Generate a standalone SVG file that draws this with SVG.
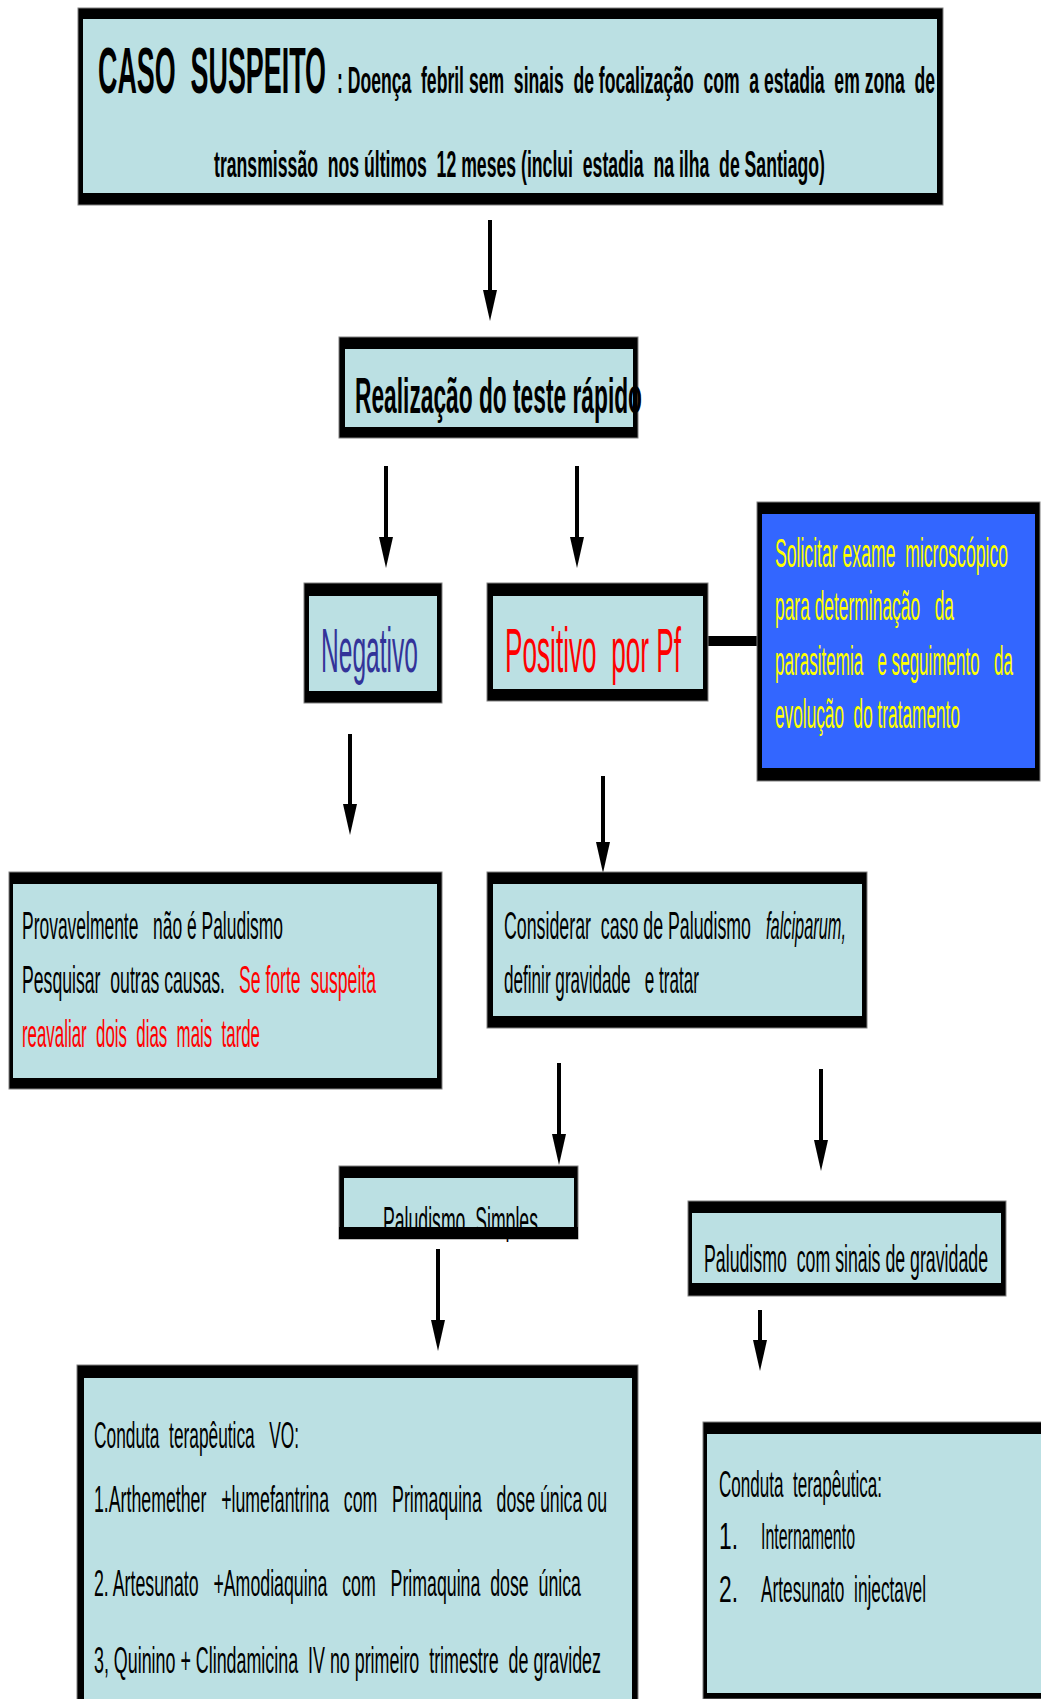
<svg xmlns="http://www.w3.org/2000/svg" width="1041" height="1699" viewBox="0 0 1041 1699">
<defs>
<style>
.ob{fill:#000;stroke:#808080;stroke-width:1}
.in{fill:#BBE0E3}
.t{font-family:"Liberation Sans",Arial,sans-serif;fill:#000;white-space:pre}
.b{font-weight:bold}
.red{fill:#FF0000}
.yel{fill:#FFFF00}
.navy{fill:#333399}
.conn line{stroke:#000;stroke-width:4}
</style>
<marker id="ah" markerUnits="userSpaceOnUse" markerWidth="32" markerHeight="14" refX="6" refY="7" orient="auto">
<path d="M0,0 L31,7 L0,14 z" fill="#000"/>
</marker>
</defs>
<rect width="1041" height="1699" fill="#fff"/>

<g id="connectors" class="conn">
<line x1="490" y1="220" x2="490" y2="296" marker-end="url(#ah)"/>
<line x1="386" y1="466" x2="386" y2="543" marker-end="url(#ah)"/>
<line x1="577" y1="466" x2="577" y2="543" marker-end="url(#ah)"/>
<line x1="350" y1="734" x2="350" y2="810" marker-end="url(#ah)"/>
<line x1="603" y1="776" x2="603" y2="848" marker-end="url(#ah)"/>
<line x1="559" y1="1063" x2="559" y2="1140" marker-end="url(#ah)"/>
<line x1="821" y1="1069" x2="821" y2="1146" marker-end="url(#ah)"/>
<line x1="438" y1="1249" x2="438" y2="1326" marker-end="url(#ah)"/>
<line x1="760" y1="1310" x2="760" y2="1346" marker-end="url(#ah)"/>
<rect x="706" y="636" width="53" height="10" fill="#000"/>
</g>

<g id="caso-suspeito">
<rect class="ob" x="78" y="8" width="865" height="197"/>
<rect class="in" x="83" y="19" width="854" height="174"/>
<text class="t b" x="98" y="93" font-size="64" textLength="228" lengthAdjust="spacingAndGlyphs">CASO  SUSPEITO</text>
<text class="t b" x="337" y="93" font-size="36" textLength="598" lengthAdjust="spacingAndGlyphs">: Doença  febril sem  sinais  de focalização  com  a estadia  em zona  de</text>
<text class="t b" x="214" y="177" font-size="36" textLength="611" lengthAdjust="spacingAndGlyphs">transmissão  nos últimos  12 meses (inclui  estadia  na ilha  de Santiago)</text>
</g>

<g id="teste-rapido">
<rect class="ob" x="339" y="337" width="299" height="101"/>
<rect class="in" x="345" y="349" width="288" height="78"/>
<text class="t b" x="355" y="413" font-size="50" textLength="287" lengthAdjust="spacingAndGlyphs">Realização do teste rápido</text>
</g>

<g id="negativo">
<rect class="ob" x="304" y="583" width="138" height="120"/>
<rect class="in" x="309" y="596" width="128" height="95"/>
<text class="t navy" x="321" y="672" font-size="63" textLength="97" lengthAdjust="spacingAndGlyphs">Negativo</text>
</g>

<g id="positivo">
<rect class="ob" x="487" y="583" width="221" height="118"/>
<rect class="in" x="493" y="596" width="210" height="93"/>
<text class="t red" x="505" y="672" font-size="63" textLength="176" lengthAdjust="spacingAndGlyphs">Positivo  por Pf</text>
</g>

<g id="exame-microscopico">
<rect class="ob" x="757" y="502" width="283" height="279"/>
<rect x="762" y="514" width="273" height="254" fill="#3366FF"/>
<text class="t yel" x="775" y="567" font-size="40" textLength="233" lengthAdjust="spacingAndGlyphs">Solicitar exame  microscópico</text>
<text class="t yel" x="775" y="620" font-size="40" textLength="179" lengthAdjust="spacingAndGlyphs">para determinação   da</text>
<text class="t yel" x="775" y="675" font-size="40" textLength="238" lengthAdjust="spacingAndGlyphs">parasitemia   e seguimento   da</text>
<text class="t yel" x="775" y="728" font-size="40" textLength="185" lengthAdjust="spacingAndGlyphs">evolução  do tratamento</text>
</g>

<g id="nao-paludismo">
<rect class="ob" x="9" y="872" width="433" height="217"/>
<rect class="in" x="13" y="884" width="424" height="194"/>
<text class="t" x="22" y="939" font-size="39" textLength="261" lengthAdjust="spacingAndGlyphs">Provavelmente   não é Paludismo</text>
<text class="t" x="22" y="993" font-size="39" textLength="203" lengthAdjust="spacingAndGlyphs">Pesquisar  outras causas.</text>
<text class="t red" x="239" y="993" font-size="39" textLength="137" lengthAdjust="spacingAndGlyphs">Se forte  suspeita</text>
<text class="t red" x="22" y="1047" font-size="39" textLength="238" lengthAdjust="spacingAndGlyphs">reavaliar  dois  dias  mais  tarde</text>
</g>

<g id="considerar-falciparum">
<rect class="ob" x="487" y="872" width="380" height="156"/>
<rect class="in" x="493" y="884" width="369" height="132"/>
<text class="t" x="504" y="939" font-size="39" textLength="247" lengthAdjust="spacingAndGlyphs">Considerar  caso de Paludismo</text>
<text class="t" x="766" y="939" font-size="39" font-style="italic" textLength="80" lengthAdjust="spacingAndGlyphs">falciparum,</text>
<text class="t" x="504" y="993" font-size="39" textLength="195" lengthAdjust="spacingAndGlyphs">definir gravidade   e tratar</text>
</g>

<g id="paludismo-simples">
<rect class="ob" x="339" y="1166" width="239" height="73"/>
<rect class="in" x="344" y="1178" width="230" height="49"/>
<text class="t" x="383" y="1234" font-size="38" textLength="155" lengthAdjust="spacingAndGlyphs">Paludismo  Simples</text>
<rect x="339" y="1227" width="239" height="12" fill="#000"/>
</g>

<g id="paludismo-grave">
<rect class="ob" x="688" y="1201" width="318" height="95"/>
<rect class="in" x="692" y="1213" width="309" height="70"/>
<text class="t" x="704" y="1272" font-size="38" textLength="284" lengthAdjust="spacingAndGlyphs">Paludismo  com sinais de gravidade</text>
</g>

<g id="conduta-vo">
<rect class="ob" x="77" y="1365" width="561" height="340"/>
<rect class="in" x="84" y="1378" width="548" height="330"/>
<text class="t" x="94" y="1448" font-size="37" textLength="205" lengthAdjust="spacingAndGlyphs">Conduta  terapêutica   VO:</text>
<text class="t" x="94" y="1512" font-size="37" textLength="513" lengthAdjust="spacingAndGlyphs">1.Arthemether   +lumefantrina   com   Primaquina   dose única ou</text>
<text class="t" x="94" y="1596" font-size="37" textLength="487" lengthAdjust="spacingAndGlyphs">2. Artesunato   +Amodiaquina   com   Primaquina  dose  única</text>
<text class="t" x="94" y="1673" font-size="37" textLength="507" lengthAdjust="spacingAndGlyphs">3, Quinino + Clindamicina  IV no primeiro  trimestre  de gravidez</text>
</g>

<g id="conduta-grave">
<rect class="ob" x="703" y="1422" width="345" height="277"/>
<rect class="in" x="707" y="1434" width="340" height="259"/>
<text class="t" x="719" y="1497" font-size="37" textLength="163" lengthAdjust="spacingAndGlyphs">Conduta  terapêutica:</text>
<text class="t" x="719" y="1549" font-size="37" textLength="19" lengthAdjust="spacingAndGlyphs">1.</text>
<text class="t" x="761" y="1549" font-size="37" textLength="94" lengthAdjust="spacingAndGlyphs">Internamento</text>
<text class="t" x="719" y="1602" font-size="37" textLength="19" lengthAdjust="spacingAndGlyphs">2.</text>
<text class="t" x="761" y="1602" font-size="37" textLength="165" lengthAdjust="spacingAndGlyphs">Artesunato  injectavel</text>
</g>
</svg>
